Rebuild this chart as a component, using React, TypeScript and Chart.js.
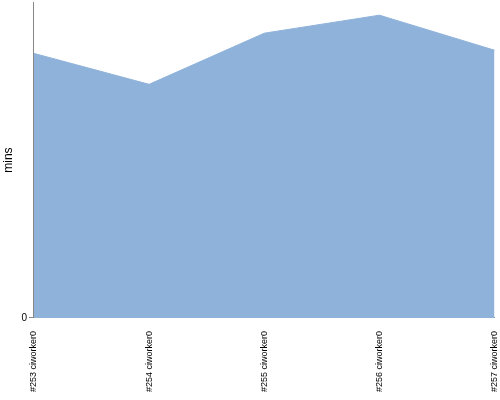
import React, { useEffect, useRef } from "react";
import { Chart, registerables } from "chart.js";

Chart.register(...registerables);

const categories = ["#253 ciworker0", "#254 ciworker0", "#255 ciworker0", "#256 ciworker0", "#257 ciworker0"];
const minutes = [83.8, 74.0, 90.2, 95.9, 84.8];
const yTickValues = [0];
const yTitle = "mins";

export default function App() {
  const ref = useRef<HTMLCanvasElement | null>(null);
  useEffect(() => {
    if (!ref.current) return;
    const chart = new Chart(ref.current, {
      type: "line",
      data: {
        labels: categories,
        datasets: [
          {
            data: minutes,
            fill: "origin",
            backgroundColor: "#8fb2da",
            borderColor: "#8fb2da",
            borderWidth: 1,
            pointRadius: 0,
            tension: 0,
          },
        ],
      },
      options: {
        animation: false,
        responsive: false,
        maintainAspectRatio: false,
        layout: { padding: { top: -2, right: 0, left: 1, bottom: 8 } },
        plugins: { legend: { display: false }, tooltip: { enabled: false } },
        scales: {
          x: {
            offset: false,
            border: { display: true, color: "#888888", width: 1 },
            grid: { display: true, drawOnChartArea: false, drawTicks: true, tickLength: 13, color: "rgba(0,0,0,0)" },
            ticks: {
              minRotation: 90,
              maxRotation: 90,
              autoSkip: false,
              padding: 0,
              color: "#000000",
              font: { family: "Liberation Sans", size: 9, lineHeight: 0.6 },
            },
          },
          y: {
            min: 0,
            max: 100,
            afterBuildTicks: (axis: any) => {
              axis.ticks = yTickValues.map((v) => ({ value: v }));
            },
            border: { display: true, color: "#888888", width: 1 },
            grid: { drawOnChartArea: false, drawTicks: true, tickLength: 5, color: "#888888" },
            ticks: {
              padding: 2,
              color: "#000000",
              font: { family: "Liberation Sans", size: 10, lineHeight: 0.05 },
            },
            title: {
              display: true,
              text: yTitle,
              color: "#000000",
              padding: { top: 0, bottom: 4 },
              font: { family: "Liberation Sans", size: 12 },
            },
          },
        },
      },
    });
    return () => chart.destroy();
  }, []);
  return (
    <div style={{ position: "fixed", left: 0, top: 0, width: 500, height: 400, background: "#fff" }}>
      <canvas ref={ref} width={500} height={400} />
    </div>
  );
}
